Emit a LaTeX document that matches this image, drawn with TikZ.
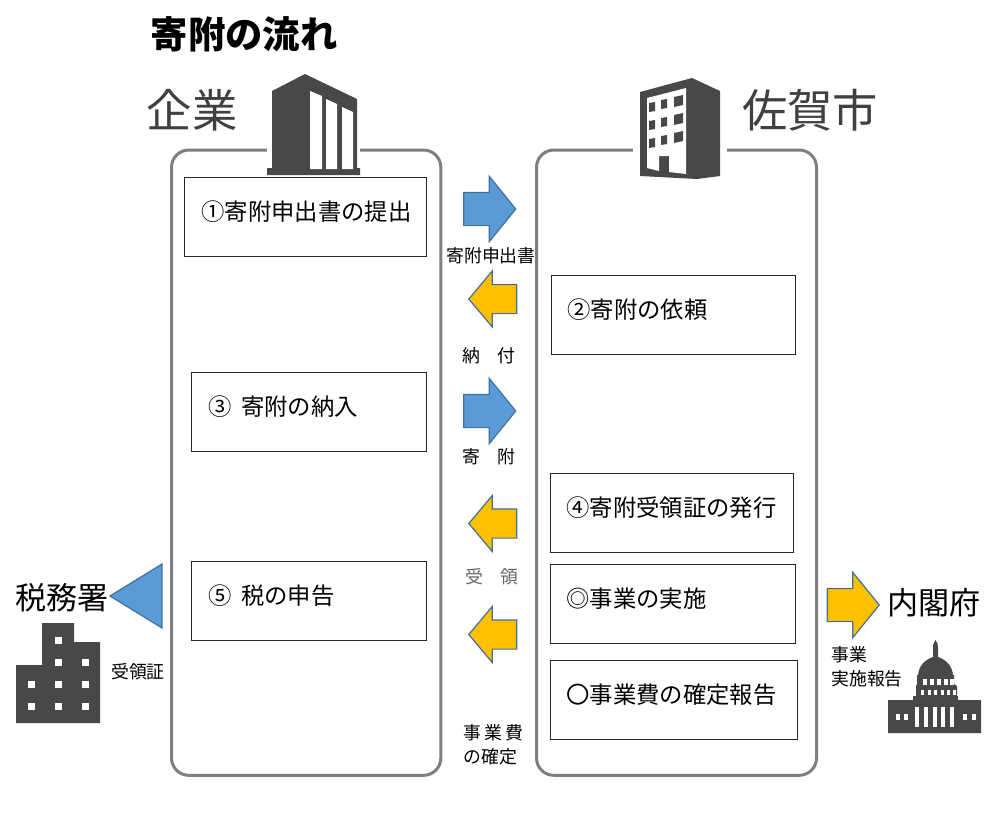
\documentclass[tikz,border=0pt]{standalone}
\usepackage{fontspec}
\setmainfont{Noto Sans CJK JP}
\usetikzlibrary{arrows,shapes.arrows}
\definecolor{bluefill}{HTML}{5B9BD5}
\definecolor{blueline}{HTML}{41719C}
\definecolor{yellowfill}{HTML}{FFC000}
\definecolor{panelgray}{HTML}{7F7F7F}
\definecolor{icongray}{HTML}{484848}
\tikzset{x=.75pt,y=-.75pt}

\begin{document}
\begin{tikzpicture}
	\tikzset{block/.style 2 args={draw=black!85, line width=.75pt, rectangle, anchor=north west, align=left, inner sep=0pt,
			text width=#1*.75pt, text height=32.5pt, text depth=26.5pt, font=\fontsize{17.5pt}{21pt}\selectfont,
			execute at begin node={\hspace*{#2pt}}},
		rblock/.style={draw=panelgray, line width=2.25pt, shape=rectangle, rounded corners=13pt, anchor=north west,
			minimum height=469pt},
		rarrow/.style={single arrow, draw=blueline, line width=.9pt, inner xsep=0pt, inner ysep=12pt, minimum height=39pt,
			single arrow head extend=12pt, single arrow tip angle=102, anchor=tip},
		larrow/.style={rarrow, shape border rotate=180, fill=yellowfill, inner ysep=10.5pt, minimum height=36pt,
			single arrow head extend=10pt, single arrow tip angle=100},
		small/.style={inner sep=0pt, align=left, font=\fontsize{13.4pt}{18pt}\selectfont},
		place/.style={inner sep=0pt, font=\fontsize{23.3pt}{28pt}\selectfont},
		party/.style={inner sep=0pt, text=black!75, font=\fontsize{34pt}{40pt}\selectfont},
	}
	\path[fill=white] (0,0) rectangle (1000,826);
	% panels
	\node [rblock, minimum width=202pt] (firm) at (170,148.5) {};
	\node [rblock, minimum width=210pt] (city) at (535,148.5) {};
	% title
	\node [inner sep=0pt, anchor=west, font=\fontsize{28pt}{33pt}\selectfont\bfseries] (title) at (150.5,34) {寄附の流れ};
	\node [party] (firmname) at (192,110) {企業};
	\node [party] (cityname) at (810,110) {佐賀市};
	\node [place] (taxname) at (62,598) {税務署};
	\node [place] (cabname) at (934,603) {内閣府};
	% firm icon
	\fill[white] (267,140) rectangle (360,160);
	\fill[icongray] (272,91) -- (305,74) -- (357,99) -- (357,168) -- (360,168) -- (360,175) -- (267,175) -- (267,168) -- (272,168) -- cycle;
	\fill[white] (310,91) -- (322,96) -- (322,169) -- (310,169) -- cycle;
	\fill[white] (326,99) -- (337,104) -- (337,169) -- (326,169) -- cycle;
	\fill[white] (342,107) -- (353,112) -- (353,169) -- (342,169) -- cycle;
	% city icon
	\fill[white] (633,140) rectangle (727,160);
	\fill[icongray] (640,92) -- (692,78) -- (720,91) -- (720,176) -- (697,179) -- (640,176) -- cycle;
	\fill[white] (647,98) -- (686,88) -- (686,174) -- (669,172) -- (669,156) -- (659,156) -- (659,171) -- (647,168) -- cycle;
	\foreach \wy in {0,18,36} {
		\fill[icongray] (649,103+\wy) -- (655,102+\wy) -- (655,111+\wy) -- (649,112+\wy) -- cycle;
		\fill[icongray] (661,100+\wy) -- (667,99+\wy) -- (667,108+\wy) -- (661,109+\wy) -- cycle;
		\fill[icongray] (674,97+\wy) -- (683,95+\wy) -- (683,105+\wy) -- (674,107+\wy) -- cycle;
	}
	% boxes
	\node [block={242}{12.75}] (b1) at (184,177) {①寄附申出書の提出};
	\node [block={244}{12}] (b2) at (551,275) {②寄附の依頼};
	\node [block={235}{12.75}] (b3) at (191,372) {③\hspace{7pt}寄附の納入};
	\node [block={243}{12}] (b4) at (550,473) {④寄附受領証の発行};
	\node [block={235}{12.75}] (b5) at (191,561) {⑤\hspace{7pt}税の申告};
	\node [block={245}{12}] (b6) at (550,564) {◎事業の実施};
	\node [block={246.5}{12}] (b7) at (550,660) {〇事業費の確定報告};
	% arrows
	\node [rarrow, fill=bluefill] (a1) at (516.5,209) {};
	\node [larrow] (a2) at (468,299) {};
	\node [rarrow, fill=bluefill] (a3) at (516.5,411) {};
	\node [larrow] (a4) at (468,523.5) {};
	\node [larrow] (a5) at (468,634.5) {};
	\node [rarrow, fill=yellowfill] (a6) at (880,605) {};
	\fill[bluefill, draw=blueline, line width=.9pt] (110,596) -- (162,564) -- (162,628) -- cycle;
	% labels
	\node [small] (l1) at (491,256) {寄附申出書};
	\node [small] (l2) at (489,356) {納　付};
	\node [small] (l3) at (489,457) {寄　附};
	\node [small, text=black!60] (l4) at (492,577) {受　領};
	\node [small, anchor=north west] (l5) at (463,724) {事\hspace{2.6pt}業\hspace{2.6pt}費\\の確定};
	\node [small] (l6) at (138,672) {受領証};
	\node [small, anchor=north west] (l7) at (831,646) {事業\\実施報告};
	% tax office icon
	\fill[icongray] (16,665) -- (42,665) -- (42,623) -- (74,623) -- (74,642) -- (100,642) -- (100,723) -- (16,723) -- cycle;
	\foreach \wx/\wy in {58/640,58/662,85/662,31/684,58/684,85/684,31/706,58/706,85/706}
		\fill[white] (\wx-3.5,\wy-3.5) rectangle (\wx+3.5,\wy+3.5);
	% cabinet icon
	\fill[icongray] (888,700) -- (913,700) -- (913,696) -- (916,696) -- (916,686) -- (917,684) -- (917,675) -- (918,675)
		.. controls (919,664) and (927,659) .. (933,657) -- (933,648) .. controls (933,644) and (934,642) .. (935.5,640)
		.. controls (937,642) and (938,644) .. (938,648) -- (938,657) .. controls (944,659) and (952,664) .. (953,675)
		-- (954,675) -- (954,684) -- (957,686) -- (957,696) -- (958,696) -- (958,700) -- (981,700) -- (981,733) -- (888,733) -- cycle;
	\foreach \wx in {915,924,932.5,941,950}
		\fill[white] (\wx,707) rectangle (\wx+4,727);
	\foreach \wx in {896,904,963,972}
		\fill[white] (\wx,714) rectangle (\wx+3.5,720);
	\foreach \wx in {923,930,937,944,950}
		\fill[white] (\wx,679) rectangle (\wx+3.5,685);
	\foreach \wx in {921,928,934,941,947,953}
		\fill[white] (\wx,690) rectangle (\wx+3,695);
\end{tikzpicture}
\end{document}
